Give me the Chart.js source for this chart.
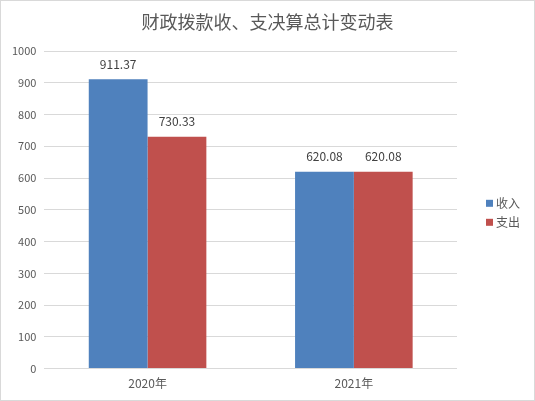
<!DOCTYPE html>
<html>
<head>
<meta charset="utf-8">
<script src="https://cdn.jsdelivr.net/npm/chart.js@4/dist/chart.umd.min.js"></script>
<style>
  html, body { margin: 0; padding: 0; background: #fff; }
  #wrap { width: 535px; height: 401px; box-sizing: border-box; border: 1px solid #d9d9d9; }
</style>
</head>
<body>
<div id="wrap"><canvas id="chart" width="533" height="399"></canvas></div>
<script>
const categories = ['2020年', '2021年'];
const incomeValues = [911.37, 620.08];
const expenseValues = [730.33, 620.08];
const seriesNames = ['收入', '支出'];
const chartTitle = '财政拨款收、支决算总计变动表';

const fontFamily = '"Noto Sans CJK SC", "Noto Sans", sans-serif';

// labels above each bar, placed from the bar elements
const valueLabels = {
    id: 'valueLabels',
    afterDatasetsDraw(chart) {
        const ctx = chart.ctx;
        ctx.save();
        ctx.font = '12px ' + fontFamily;
        ctx.fillStyle = '#404040';
        ctx.textAlign = 'center';
        ctx.textBaseline = 'bottom';
        chart.data.datasets.forEach((ds, i) => {
            chart.getDatasetMeta(i).data.forEach((bar, j) => {
                ctx.fillText(ds.data[j].toFixed(2), bar.x, bar.y - 9);
            });
        });
        ctx.restore();
    }
};

// title centred on the whole canvas, legend on the right of the plot
const titleAndLegend = {
    id: 'titleAndLegend',
    afterDraw(chart) {
        const ctx = chart.ctx;
        const area = chart.chartArea;
        ctx.save();
        ctx.font = '18px ' + fontFamily;
        ctx.fillStyle = '#595959';
        ctx.textAlign = 'center';
        ctx.textBaseline = 'middle';
        ctx.fillText(chartTitle, chart.width / 2, 21);

        const rowH = 19;
        const n = chart.data.datasets.length;
        let y = (area.top + area.bottom) / 2 - (n - 1) * rowH / 2 + 3;
        ctx.font = '12px ' + fontFamily;
        ctx.textAlign = 'left';
        chart.data.datasets.forEach(ds => {
            ctx.fillStyle = ds.backgroundColor;
            ctx.fillRect(area.right + 29, y - 3.5, 7, 7);
            ctx.fillStyle = '#595959';
            ctx.fillText(ds.label, area.right + 39, y);
            y += rowH;
        });
        ctx.restore();
    }
};

new Chart(document.getElementById('chart').getContext('2d'), {
    type: 'bar',
    data: {
        labels: categories,
        datasets: [{
            label: seriesNames[0],
            data: incomeValues,
            backgroundColor: '#4f81bd',
            categoryPercentage: 0.57,
            barPercentage: 1
        }, {
            label: seriesNames[1],
            data: expenseValues,
            backgroundColor: '#c0504d',
            categoryPercentage: 0.57,
            barPercentage: 1
        }]
    },
    options: {
        responsive: false,
        animation: false,
        layout: { padding: { left: 3, right: 77, top: 50, bottom: 1 } },
        plugins: {
            legend: { display: false },
            tooltip: { enabled: false }
        },
        scales: {
            x: {
                grid: { display: false, drawTicks: false },
                border: { display: false },
                ticks: { color: '#595959', font: { family: fontFamily, size: 12 }, padding: 8 }
            },
            y: {
                min: 0,
                max: 1000,
                ticks: {
                    stepSize: 100,
                    color: '#595959',
                    font: { family: fontFamily, size: 11 },
                    padding: 8,
                    callback: v => String(v)
                },
                grid: { color: '#d9d9d9', drawTicks: false },
                border: { display: false }
            }
        }
    },
    plugins: [valueLabels, titleAndLegend]
});
</script>
</body>
</html>
